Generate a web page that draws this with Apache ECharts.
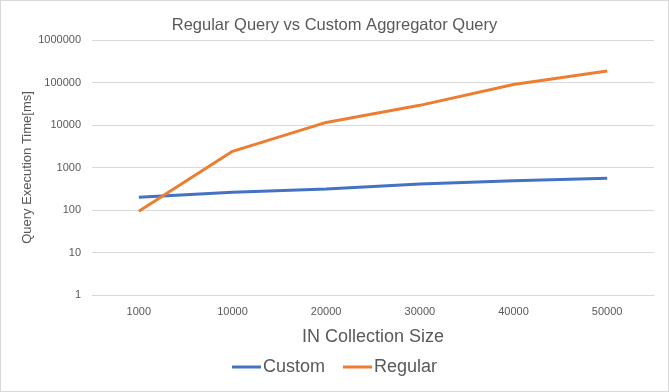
<!DOCTYPE html>
<html><head><meta charset="utf-8">
<script src="https://cdn.jsdelivr.net/npm/echarts@6/dist/echarts.min.js"></script>
<style>html,body{margin:0;padding:0;background:#fff}#c{width:667px;height:390px;border:1px solid #d9d9d9}</style>
</head><body><div id="c"></div>
<script>
const categories = ['1000','10000','20000','30000','40000','50000'];
const customValues = [200, 262, 310, 410, 490, 555];
const regularValues = [93, 2400, 11500, 29000, 90000, 186000];
const FONT = "'Liberation Sans',sans-serif";
const chart = echarts.init(document.getElementById('c'));
chart.setOption({
  animation:false,
  textStyle:{fontFamily:FONT},
  title:{text:'Regular Query vs Custom Aggregator Query',left:'center',top:11,
    textStyle:{fontFamily:FONT,fontSize:16.5,fontWeight:'normal',color:'#595959'}},
  legend:{bottom:10,itemWidth:29,itemHeight:3,itemGap:18,icon:'rect',
    textStyle:{fontFamily:FONT,fontSize:18,color:'#595959',padding:[0,0,0,-3]},
    data:['Custom','Regular']},
  grid:{left:91,right:14,top:39,bottom:96},
  xAxis:{type:'category',data:categories,boundaryGap:true,
    name:'IN Collection Size',nameLocation:'middle',nameGap:33,
    nameTextStyle:{fontFamily:FONT,fontSize:18,color:'#595959'},
    axisLine:{lineStyle:{color:'#d9d9d9'}},axisTick:{show:false},
    axisLabel:{fontSize:11,color:'#595959',margin:11}},
  yAxis:{type:'log',logBase:10,min:1,max:1000000,
    name:'Query Execution Time[ms]',nameLocation:'middle',nameGap:58,nameMoveOverlap:false,
    nameTextStyle:{fontFamily:FONT,fontSize:13,color:'#595959'},
    axisLine:{show:false},axisTick:{show:false},
    splitLine:{lineStyle:{color:'#d9d9d9'}},
    axisLabel:{fontSize:11,color:'#595959',margin:11,formatter:function(v){return String(Math.round(v));}}},
  series:[
    {name:'Custom',type:'line',data:customValues,symbol:'none',color:'#4472C4',lineStyle:{width:3,color:'#4472C4'}},
    {name:'Regular',type:'line',data:regularValues,symbol:'none',color:'#ED7D31',lineStyle:{width:3,color:'#ED7D31'}}
  ]
});
</script></body></html>
